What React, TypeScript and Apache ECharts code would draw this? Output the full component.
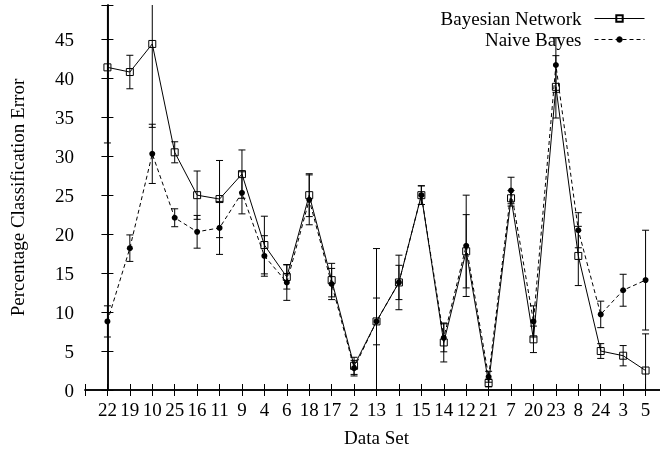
import React, { useEffect, useRef } from "react";
import * as echarts from "echarts";

const categories = ["22", "19", "10", "25", "16", "11", "9", "4", "6", "18", "17", "2", "13", "1", "15", "14", "12", "21", "7", "20", "23", "8", "24", "3", "5"];
const bnMean = [41.4, 40.8, 44.4, 30.5, 25.0, 24.5, 27.7, 18.6, 14.5, 25.0, 14.1, 3.1, 8.8, 13.8, 25.0, 6.1, 17.8, 0.9, 24.6, 6.5, 38.9, 17.2, 5.0, 4.4, 2.5];
const bnErr = [9.7, 2.15, 10.7, 1.35, 3.1, 4.95, 3.1, 3.7, 1.55, 2.75, 2.15, 1.1, 9.35, 3.5, 1.2, 2.5, 4.7, 0.5, 1.0, 1.7, 4.0, 3.8, 0.95, 1.3, 4.7];
const nbMean = [8.8, 18.2, 30.3, 22.1, 20.3, 20.8, 25.3, 17.2, 13.8, 24.4, 13.6, 2.8, 8.8, 13.8, 25.0, 6.7, 18.5, 1.7, 25.6, 8.8, 41.7, 20.5, 9.7, 12.8, 14.1];
const nbErr = [2.0, 1.7, 3.8, 1.15, 2.1, 3.4, 2.7, 2.6, 2.3, 3.2, 2.0, 1.0, 3.0, 2.2, 1.2, 1.8, 6.5, 0.7, 1.7, 2.0, 3.5, 2.25, 1.7, 2.05, 6.4];

const Y_MIN = 0;
const Y_MAX = 49.4;
const FONT = "'Liberation Serif', 'Times New Roman', serif";

function errorSeries(mean: number[], err: number[], name: string) {
  return {
    type: "custom",
    name: name + " err",
    z: 1,
    silent: true,
    data: mean.map((m, i) => [i, m - err[i], m + err[i]]),
    renderItem: (params: any, api: any) => {
      const x = api.value(0);
      const lo = api.value(1);
      const hi = api.value(2);
      const loC = Math.max(lo, Y_MIN);
      const hiC = Math.min(hi, Y_MAX);
      const pLo = api.coord([x, loC]);
      const pHi = api.coord([x, hiC]);
      const style = { stroke: "#000", lineWidth: 1 };
      const children: any[] = [
        { type: "line", shape: { x1: pLo[0], y1: pLo[1], x2: pHi[0], y2: pHi[1] }, style },
      ];
      const cap = 3.5;
      if (lo >= Y_MIN) {
        children.push({ type: "line", shape: { x1: pLo[0] - cap, y1: pLo[1], x2: pLo[0] + cap, y2: pLo[1] }, style });
      }
      if (hi <= Y_MAX) {
        children.push({ type: "line", shape: { x1: pHi[0] - cap, y1: pHi[1], x2: pHi[0] + cap, y2: pHi[1] }, style });
      }
      return { type: "group", children };
    },
  };
}

export default function App() {
  const ref = useRef<HTMLDivElement>(null);
  useEffect(() => {
    if (!ref.current) return;
    const chart = echarts.init(ref.current, null, { renderer: "svg" });
    const axisLine = { show: true, lineStyle: { color: "#000", width: 1.5 } };
    const tickStyle = { color: "#000", width: 1 };
    chart.setOption({
      animation: false,
      textStyle: { fontFamily: FONT, color: "#000" },
      grid: { left: 85, top: 5, right: -8, bottom: 61, outerBoundsMode: "none" },
      legend: {
        show: true,
        right: 10,
        top: 4,
        orient: "vertical",
        align: "right",
        itemWidth: 50,
        itemHeight: 8,
        itemGap: 2,
        data: ["Bayesian Network", "Naive Bayes"],
        lineStyle: { width: 1 },
        textStyle: { fontFamily: FONT, fontSize: 19, color: "#000", padding: [0, 8, 0, 0] },
      },
      xAxis: [
        {
          type: "value",
          min: -1,
          max: 25,
          interval: 1,
          position: "bottom",
          name: "Data Set",
          nameLocation: "middle",
          nameGap: 38,
          nameTextStyle: { fontFamily: FONT, fontSize: 19, color: "#000" },
          axisLine,
          axisTick: { show: true, inside: true, length: 6, lineStyle: tickStyle },
          axisLabel: {
            show: true,
            margin: 10,
            fontFamily: FONT,
            fontSize: 19,
            color: "#000",
            formatter: (v: number) => (categories[v] !== undefined ? categories[v] : ""),
          },
          splitLine: { show: false },
        },
        {
          type: "value",
          min: -1,
          max: 25,
          interval: 1,
          position: "top",
          axisLine,
          axisTick: { show: true, inside: true, length: 6, lineStyle: tickStyle },
          axisLabel: { show: false },
          splitLine: { show: false },
        },
      ],
      yAxis: [
        {
          type: "value",
          min: Y_MIN,
          max: Y_MAX,
          interval: 5,
          name: "Percentage Classification Error",
          nameLocation: "middle",
          nameGap: 58,
          nameTextStyle: { fontFamily: FONT, fontSize: 19, color: "#000" },
          axisLine,
          axisTick: { show: true, inside: true, length: 6, lineStyle: tickStyle },
          axisLabel: {
            show: true,
            margin: 11,
            fontFamily: FONT,
            fontSize: 19,
            color: "#000",
            formatter: (v: number) => (Math.abs(v % 5) < 1e-9 ? String(v) : ""),
          },
          splitLine: { show: false },
        },
        {
          type: "value",
          min: Y_MIN,
          max: Y_MAX,
          interval: 5,
          position: "right",
          axisLine,
          axisTick: { show: true, inside: true, length: 6, lineStyle: tickStyle },
          axisLabel: { show: false },
          splitLine: { show: false },
        },
      ],
      series: [
        errorSeries(bnMean, bnErr, "Bayesian Network"),
        errorSeries(nbMean, nbErr, "Naive Bayes"),
        {
          type: "line",
          name: "Bayesian Network",
          z: 3,
          data: bnMean.map((v, i) => [i, v]),
          symbol: "rect",
          symbolSize: 7,
          itemStyle: { color: "rgba(0,0,0,0)", borderColor: "#000", borderWidth: 1 },
          lineStyle: { color: "#000", width: 1, type: "solid" },
        },
        {
          type: "line",
          name: "Naive Bayes",
          z: 2,
          data: nbMean.map((v, i) => [i, v]),
          symbol: "circle",
          symbolSize: 6,
          itemStyle: { color: "#000" },
          lineStyle: { color: "#000", width: 1, type: [4, 3] },
        },
      ],
    });
    return () => chart.dispose();
  }, []);
  return <div ref={ref} style={{ position: "fixed", left: 0, top: 0, width: 660, height: 451 }} />;
}
